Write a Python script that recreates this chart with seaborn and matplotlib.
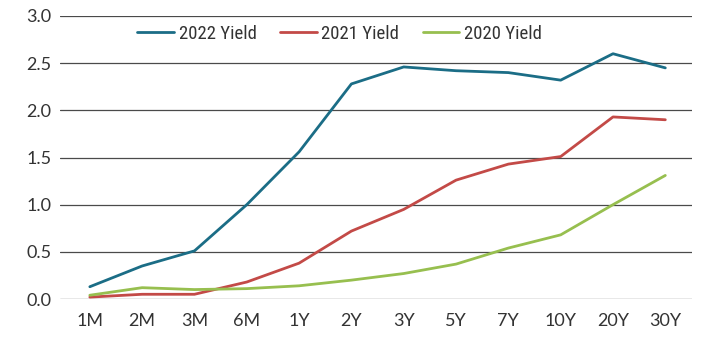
import matplotlib
matplotlib.use("Agg")
import matplotlib.pyplot as plt
import seaborn as sns
import pandas as pd

tenors = ["1M", "2M", "3M", "6M", "1Y", "2Y", "3Y", "5Y", "7Y", "10Y", "20Y", "30Y"]
yield_2022 = [0.13, 0.35, 0.51, 1.00, 1.56, 2.28, 2.46, 2.42, 2.40, 2.32, 2.60, 2.45]
yield_2021 = [0.02, 0.05, 0.05, 0.18, 0.38, 0.72, 0.95, 1.26, 1.43, 1.51, 1.93, 1.90]
yield_2020 = [0.04, 0.12, 0.10, 0.11, 0.14, 0.20, 0.27, 0.37, 0.54, 0.68, 1.00, 1.31]
series_names = ["2022 Yield", "2021 Yield", "2020 Yield"]
colors = ["#1b6d86", "#c34a47", "#97bf4f"]
y_ticks = [0.0, 0.5, 1.0, 1.5, 2.0, 2.5, 3.0]

df = pd.DataFrame({
    "tenor": tenors * 3,
    "x": list(range(len(tenors))) * 3,
    "value": yield_2022 + yield_2021 + yield_2020,
    "series": sum([[n] * len(tenors) for n in series_names], []),
})

sns.set_theme(style="white")
plt.rcParams["font.family"] = ["Lato", "DejaVu Sans"]

fig = plt.figure(figsize=(7.04, 3.37), dpi=100)
ax = fig.add_axes([60 / 704, 1 - 299 / 337, 632 / 704, 283 / 337])

for y in y_ticks:
    ax.axhline(y, color="#4a4a4a", lw=0.9, zorder=0)

sns.lineplot(data=df, x="x", y="value", hue="series", hue_order=series_names,
             palette=colors, linewidth=2.0, ax=ax, legend=True)

ax.set_xlim(-0.57, 11.51)
ax.set_ylim(0, 3.0)
ax.set_yticks(y_ticks)
ax.set_yticklabels([f"{v:.1f}" for v in y_ticks])
ax.set_xticks(range(len(tenors)))
ax.set_xticklabels(tenors)
ax.tick_params(axis="both", length=0, labelsize=13, colors="#333333")
ax.tick_params(axis="x", pad=10)
ax.tick_params(axis="y", pad=6)
ax.set_xlabel("")
ax.set_ylabel("")
for s in ax.spines.values():
    s.set_visible(False)

leg = ax.legend(loc="center left", bbox_to_anchor=((128 - 60) / 632, (299 - 34) / 283),
                ncol=3, frameon=False, handlelength=1.95, borderpad=0,
                columnspacing=1.25, handletextpad=0.25,
                prop={"family": ["Roboto Condensed", "DejaVu Sans"], "size": 13.5})
for t in leg.get_texts():
    t.set_color("#333333")

fig.savefig("out.png", dpi=100)
